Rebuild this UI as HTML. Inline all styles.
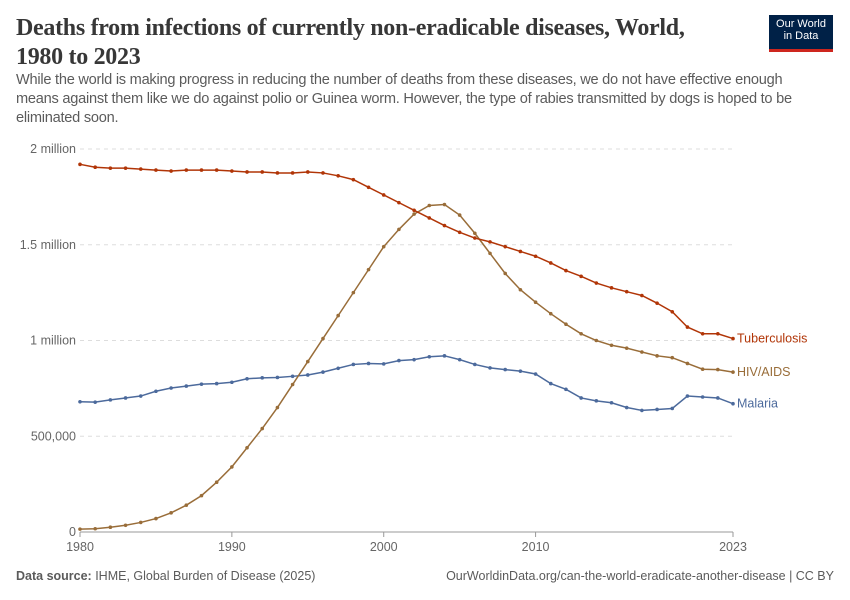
<!DOCTYPE html>
<html><head><meta charset="utf-8"><style>
body{margin:0;width:850px;height:600px;background:#fff;font-family:"Liberation Sans",sans-serif;overflow:hidden;position:relative}
.t{position:absolute;left:16px;top:14px;font-family:"Liberation Serif",serif;font-size:24px;line-height:29px;color:#373737;width:670px;letter-spacing:-0.3px;font-weight:bold}
.s{position:absolute;left:16px;top:71px;font-size:14.6px;line-height:19px;color:#5b5b5b;width:808px;letter-spacing:-0.25px}
.logo{position:absolute;left:769px;top:15px;width:64px;height:37px;background:#002147;color:#fff;font-size:11px;line-height:12px;text-align:center;padding-top:3px;box-sizing:border-box;border-bottom:3px solid #ce261e}
.f{position:absolute;top:569px;font-size:12.5px;color:#5b5b5b}
</style></head><body>
<div class="t">Deaths from infections of currently non-eradicable diseases, World, 1980 to 2023</div>
<div class="logo">Our World<br>in Data</div>
<div class="s">While the world is making progress in reducing the number of deaths from these diseases, we do not have effective enough means against them like we do against polio or Guinea worm. However, the type of rabies transmitted by dogs is hoped to be eliminated soon.</div>
<svg id="c" width="850" height="600" style="position:absolute;left:0;top:0"></svg>
<div class="f" style="left:16px"><b>Data source:</b> IHME, Global Burden of Disease (2025)</div>
<div class="f" style="right:16px">OurWorldinData.org/can-the-world-eradicate-another-disease | CC BY</div>
<script>
const tb=[1.92,1.905,1.9,1.9,1.895,1.89,1.885,1.89,1.89,1.89,1.885,1.88,1.88,1.875,1.875,1.88,1.875,1.86,1.84,1.8,1.76,1.72,1.68,1.64,1.6,1.565,1.535,1.515,1.49,1.465,1.44,1.405,1.365,1.335,1.3,1.275,1.255,1.235,1.195,1.15,1.07,1.035,1.035,1.01];
const hiv=[0.015,0.017,0.025,0.035,0.05,0.07,0.1,0.14,0.19,0.26,0.34,0.44,0.54,0.65,0.77,0.89,1.01,1.13,1.25,1.37,1.49,1.58,1.66,1.705,1.71,1.655,1.56,1.455,1.35,1.265,1.2,1.14,1.085,1.035,1.0,0.975,0.96,0.94,0.92,0.91,0.88,0.85,0.848,0.835];
const ma=[0.68,0.678,0.69,0.7,0.71,0.735,0.752,0.762,0.772,0.775,0.782,0.8,0.805,0.807,0.813,0.82,0.835,0.855,0.875,0.88,0.878,0.895,0.9,0.915,0.92,0.9,0.875,0.857,0.848,0.84,0.825,0.775,0.745,0.7,0.685,0.675,0.65,0.635,0.64,0.645,0.71,0.705,0.7,0.67];
const X=i=>80+i*653/43,Y=v=>532-v*191.5;
let s='';
[[2,'2 million'],[1.5,'1.5 million'],[1,'1 million'],[0.5,'500,000']].forEach(([v,l])=>{s+=`<line x1="80" x2="733" y1="${Y(v)}" y2="${Y(v)}" stroke="#ddd" stroke-dasharray="4,4"/><text x="76" y="${Y(v)+4}" text-anchor="end" font-size="12.5" fill="#666">${l}</text>`});
s+=`<line x1="80" x2="733" y1="532" y2="532" stroke="#999"/><text x="76" y="536" text-anchor="end" font-size="12.5" fill="#666">0</text>`;
[[0,'1980'],[10,'1990'],[20,'2000'],[30,'2010'],[43,'2023']].forEach(([i,l])=>{s+=`<line x1="${X(i)}" x2="${X(i)}" y1="532" y2="537" stroke="#999"/><text x="${X(i)}" y="551" text-anchor="middle" font-size="12.5" fill="#666">${l}</text>`});
[[ma,'#4c6a9c','Malaria'],[hiv,'#996d39','HIV/AIDS'],[tb,'#b13507','Tuberculosis']].forEach(([d,c,l])=>{s+=`<polyline fill="none" stroke="${c}" stroke-width="1.5" points="${d.map((v,i)=>X(i)+','+Y(v)).join(' ')}"/>`;d.forEach((v,i)=>s+=`<circle cx="${X(i)}" cy="${Y(v)}" r="1.8" fill="${c}"/>`);s+=`<text x="737" y="${Y(d[43])+4}" font-size="12.5" fill="${c}">${l}</text>`});
document.getElementById('c').innerHTML=s;
</script>
</body></html>
